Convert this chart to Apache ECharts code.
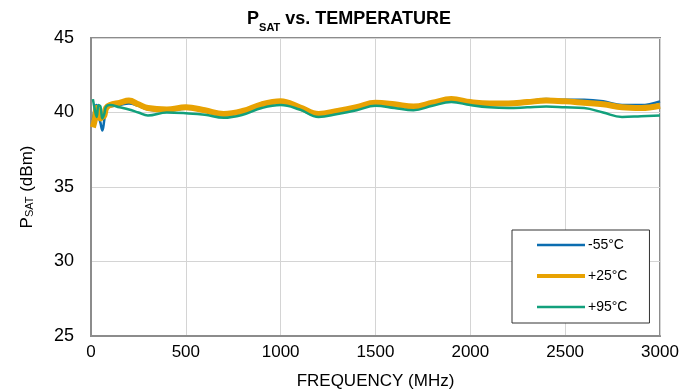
<!DOCTYPE html>
<html><head><meta charset="utf-8">
<script src="https://cdn.jsdelivr.net/npm/echarts@6/dist/echarts.min.js"></script>
<style>html,body{margin:0;padding:0;background:#fff}#c{width:698px;height:392px}</style>
</head><body><div id="c"></div>
<script>
const freq = [10,20,30,40,50,60,70,80,100,150,200,250,300,400,500,600,700,800,900,1000,1100,1200,1300,1400,1500,1600,1700,1800,1900,2000,2100,2200,2300,2400,2500,2600,2700,2800,2900,3000];
const m55 = [39.5,40.3,40.5,39.8,39.3,38.8,39.5,40.2,40.4,40.5,40.6,40.45,40.2,40.1,40.25,40.1,39.85,40.05,40.55,40.75,40.4,39.95,40.15,40.4,40.7,40.55,40.4,40.7,40.9,40.75,40.6,40.65,40.75,40.9,40.85,40.85,40.75,40.5,40.5,40.75];
const p25 = [39.0,39.5,40.3,39.9,39.6,39.7,39.8,40.3,40.5,40.65,40.8,40.55,40.3,40.2,40.35,40.15,39.9,40.1,40.55,40.75,40.35,39.9,40.1,40.35,40.65,40.55,40.4,40.65,40.9,40.7,40.6,40.6,40.7,40.8,40.75,40.65,40.55,40.35,40.3,40.45];
const p95 = [40.9,40.2,39.7,40.5,40.4,39.6,39.9,40.4,40.5,40.35,40.2,40.0,39.8,40.0,39.95,39.85,39.65,39.85,40.3,40.5,40.2,39.7,39.9,40.15,40.45,40.3,40.15,40.45,40.7,40.5,40.35,40.3,40.35,40.4,40.35,40.3,40.0,39.7,39.75,39.8];
const seriesNames = ['-55°C','+25°C','+95°C'];
const xTicks = [0,500,1000,1500,2000,2500,3000];
const yTicks = [25,30,35,40,45];

const pair = (ys) => freq.map((f,i)=>[f, ys[i]]);
const font = 'Liberation Sans, Arial, sans-serif';
const colors = ['#0b6db0','#e8a202','#12a07c'];
const widths = [2.5,6,2.5];
const legendWidths = [2.5,4,2.5];
const chart = echarts.init(document.getElementById('c'));
chart.setOption({
  animation:false,
  backgroundColor:'#fff',
  title:{
    text:'{b|P}{s|SAT}{b| vs. TEMPERATURE}',
    left:'center', top:5,
    textStyle:{ rich:{
      b:{fontFamily:font,fontSize:18,fontWeight:'bold',color:'#000',verticalAlign:'bottom'},
      s:{fontFamily:font,fontSize:11,fontWeight:'bold',color:'#000',verticalAlign:'bottom',padding:[0,0,-5,0]}
    }}
  },
  grid:{left:91,right:38,top:38,bottom:56,show:true,borderColor:'#8c8c8c',borderWidth:2,outerBoundsMode:'none',containLabel:false},
  legend:{
    orient:'vertical', left:512, top:230, padding:[8,22,9,23],
    itemWidth:48, itemHeight:14, itemGap:17,
    backgroundColor:'#fff', borderColor:'#333', borderWidth:1,
    itemStyle:{opacity:0},
    textStyle:{fontFamily:font,fontSize:14,color:'#000',padding:[0,0,0,-2]},
    data:seriesNames.map((n,i)=>({name:n,lineStyle:{width:legendWidths[i],color:colors[i]}}))
  },
  xAxis:{
    type:'value', min:xTicks[0], max:xTicks[xTicks.length-1], interval:500,
    name:'FREQUENCY (MHz)', nameLocation:'middle', nameGap:37,
    nameTextStyle:{fontFamily:font,fontSize:17,color:'#000'},
    axisLine:{show:true,lineStyle:{color:'#8c8c8c',width:2}},
    axisTick:{show:false},
    axisLabel:{fontFamily:font,fontSize:17,color:'#000',margin:8,formatter:(v)=>String(v)},
    splitLine:{show:true,lineStyle:{color:'#d4d4d4',width:1}}
  },
  yAxis:{
    type:'value', min:yTicks[0], max:yTicks[yTicks.length-1], interval:5,
    name:'{n|P}{s|SAT}{n| (dBm)}', nameLocation:'middle', nameGap:55,
    nameTextStyle:{rich:{
      n:{fontFamily:font,fontSize:17,color:'#000'},
      s:{fontFamily:font,fontSize:11,color:'#000',padding:[0,0,-5,0]}
    }},
    axisLine:{show:true,lineStyle:{color:'#8c8c8c',width:2}},
    axisTick:{show:false},
    axisLabel:{fontFamily:font,fontSize:18,color:'#000',margin:17,formatter:(v)=>String(v)},
    splitLine:{show:true,lineStyle:{color:'#d4d4d4',width:1}}
  },
  series:[0,1,2].map(i=>({
    name:seriesNames[i], type:'line', data:pair([m55,p25,p95][i]), smooth:0.4, symbol:'none',
    lineStyle:{color:colors[i],width:widths[i]}, itemStyle:{color:colors[i]}, z:2+i
  }))
});
</script></body></html>
